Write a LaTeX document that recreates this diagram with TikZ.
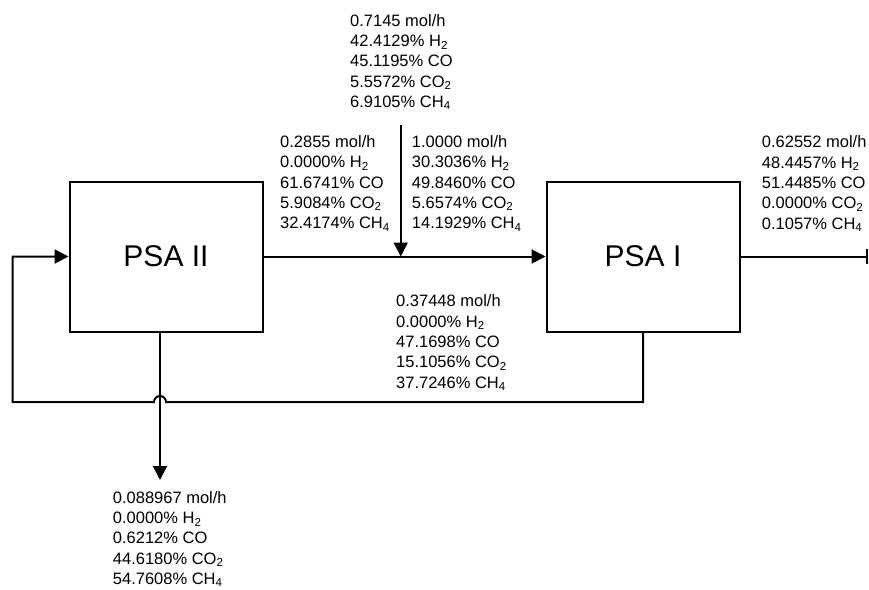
\documentclass[tikz,border=0pt]{standalone}
\usepackage{fontspec}
\setmainfont{Liberation Sans}
\usetikzlibrary{arrows.meta,positioning,calc}

\begin{document}
\begin{tikzpicture}[
  x=1pt, y=-1pt,
  node distance=282pt,
  unit/.style={rectangle, draw=black, line width=2pt, minimum width=193pt, minimum height=150pt, inner sep=0pt, font=\fontsize{30}{36}\selectfont},
  stream/.style={anchor=north west, align=left, inner sep=0pt, font=\fontsize{16.5}{20.3}\selectfont},
  pipe/.style={line width=2pt, draw=black},
  arrow/.style={pipe, -{Triangle[length=14pt, width=14pt]}}
]
\useasboundingbox (0,0) rectangle (869,589);
\node[unit] (psa2) at (166,256.5) {PSA II};
\node[unit, right=of psa2] (psa1) {PSA I};
\coordinate (feed) at (400.7,125);
\coordinate (prod) at (868,256.5);
\coordinate (tail) at (160,480);
\coordinate (ret) at (12.7,402);
\draw[arrow] (feed) -- (feed |- psa2.east);
\draw[arrow] (psa2) -- (psa1);
\draw[pipe, -{Bar[width=15pt]}] (psa1) -- (prod);
\draw[arrow] (psa1.south) -- (psa1.south |- ret) -- ($(tail |- ret)+(6,0)$) arc[start angle=0, end angle=180, radius=6pt] -- (ret) |- (psa2.west);
\draw[arrow] (psa2.south -| tail) -- (tail);
% stream tables
\node[stream] (sfeed) at (350,14) {0.7145 mol/h\\42.4129\% H\textsubscript{2}\\45.1195\% CO\\5.5572\% CO\textsubscript{2}\\6.9105\% CH\textsubscript{4}};
\node[stream] (stop) at (280,135.3) {0.2855 mol/h\\0.0000\% H\textsubscript{2}\\61.6741\% CO\\5.9084\% CO\textsubscript{2}\\32.4174\% CH\textsubscript{4}};
\node[stream] (smix) at (411.7,135.3) {1.0000 mol/h\\30.3036\% H\textsubscript{2}\\49.8460\% CO\\5.6574\% CO\textsubscript{2}\\14.1929\% CH\textsubscript{4}};
\node[stream] (sprod) at (761.7,135.7) {0.62552 mol/h\\48.4457\% H\textsubscript{2}\\51.4485\% CO\\0.0000\% CO\textsubscript{2}\\0.1057\% CH\textsubscript{4}};
\node[stream] (sret) at (396,294.7) {0.37448 mol/h\\0.0000\% H\textsubscript{2}\\47.1698\% CO\\15.1056\% CO\textsubscript{2}\\37.7246\% CH\textsubscript{4}};
\node[stream] (stail) at (112.7,491) {0.088967 mol/h\\0.0000\% H\textsubscript{2}\\0.6212\% CO\\44.6180\% CO\textsubscript{2}\\54.7608\% CH\textsubscript{4}};
\end{tikzpicture}
\end{document}
